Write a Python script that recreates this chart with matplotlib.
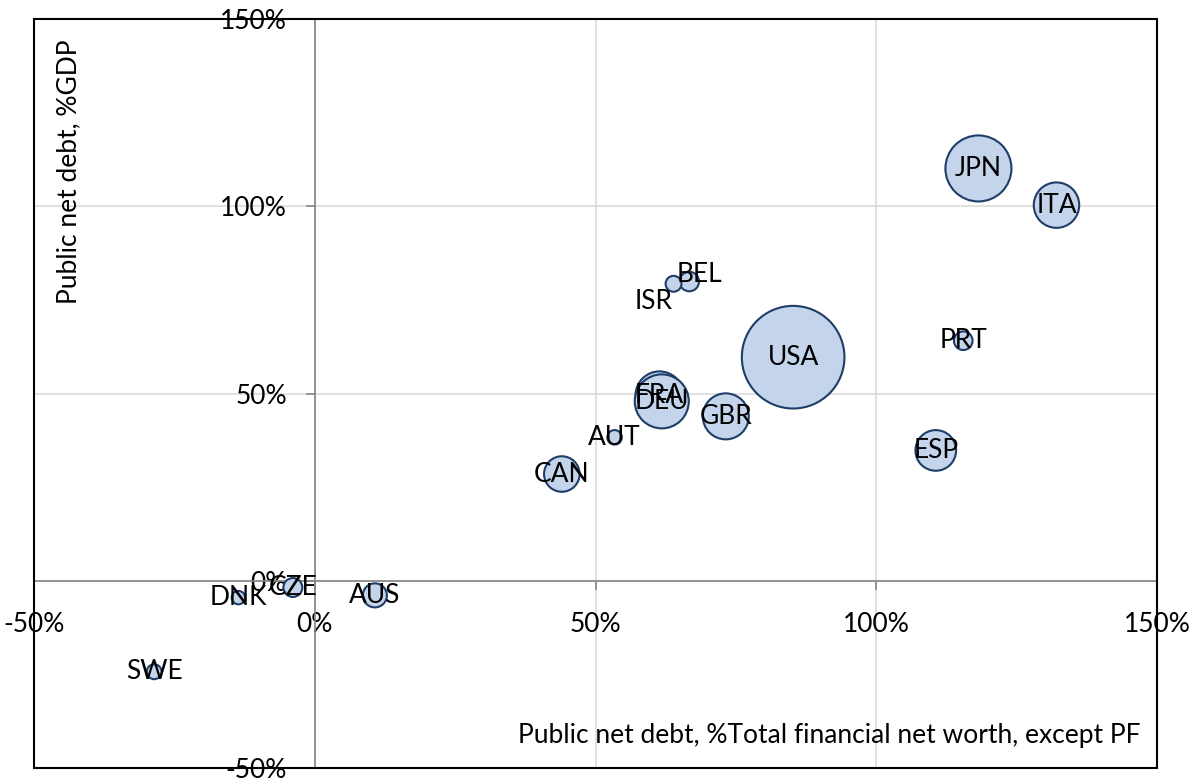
import matplotlib

matplotlib.use("Agg")
import matplotlib.pyplot as plt
from matplotlib.patches import Rectangle

# Dados (em %)
paises = ["JPN", "ITA", "BEL", "ISR", "PRT", "USA", "FRA", "DEU",
          "GBR", "AUT", "ESP", "CAN", "CZE", "DNK", "AUS", "SWE"]
divida_pl = [118.2, 132.1, 66.7, 63.9, 115.5, 85.2, 61.4, 61.8,
             73.2, 53.4, 110.6, 44.0, -3.9, -13.6, 10.7, -28.6]
divida_pib = [110.1, 100.3, 79.9, 79.3, 64.1, 59.7, 49.5, 47.9,
              43.9, 38.3, 34.8, 28.5, -1.8, -4.5, -3.9, -24.3]
tamanho = [41.4, 19.6, 3.6, 2.4, 3.3, 100.0, 21.9, 27.7,
           20.1, 2.0, 15.7, 12.0, 3.4, 1.7, 5.5, 2.1]

ticks = [-50, 0, 50, 100, 150]
tick_labels = ["-50%", "0%", "50%", "100%", "150%"]

# deslocamento (pt) dos rótulos que não ficam centrados na bolha
desloc = {"ISR": (-14.2, -12.5), "BEL": (7.4, 4.8)}

plt.rcParams["font.family"] = ["Lato", "DejaVu Sans"]
FONTE = 19

fig = plt.figure(figsize=(11.94, 7.78), dpi=100)
ax = fig.add_axes([0.0285, 0.01285, 0.9405, 0.9627])
ax.set_xlim(-50, 150)
ax.set_ylim(-50, 150)
ax.set_axisbelow(True)

ax.grid(True, color="#d9d9d9", linewidth=1.1)
ax.set_xticks(ticks)
ax.set_yticks(ticks)
ax.set_xticklabels(tick_labels)
ax.set_yticklabels(tick_labels)

for lado in ("top", "right"):
    ax.spines[lado].set_visible(False)
for lado in ("left", "bottom"):
    ax.spines[lado].set_position(("data", 0))
    ax.spines[lado].set_color("#868686")
    ax.spines[lado].set_linewidth(1.2)

ax.tick_params(axis="both", direction="out", length=6.5, width=1.2,
               color="#868686", labelsize=FONTE, labelcolor="black")
ax.tick_params(axis="y", pad=13.5)
ax.tick_params(axis="x", pad=16)

# bolhas: área proporcional ao tamanho
escala = 54.6
ax.scatter(divida_pl, divida_pib, s=[v * escala for v in tamanho],
           facecolor="#c3d4eb", edgecolor="#1f3d69", linewidth=1.5, zorder=3)

for nome, xv, yv in zip(paises, divida_pl, divida_pib):
    dx, dy = desloc.get(nome, (0, 0))
    ax.annotate(nome, (xv, yv), xytext=(dx, dy), textcoords="offset points",
                ha="center", va="center", fontsize=FONTE, color="black", zorder=4)

ax.text(0.031, 0.973, "Public net debt, %GDP", transform=ax.transAxes,
        rotation=90, ha="center", va="top", fontsize=FONTE)
ax.text(0.985, 0.043, "Public net debt, %Total financial net worth, except PF",
        transform=ax.transAxes, ha="right", va="center", fontsize=FONTE)

# moldura preta da área de plotagem
ax.add_patch(Rectangle((0, 0), 1, 1, transform=ax.transAxes, fill=False,
                       edgecolor="black", linewidth=1.5, clip_on=False, zorder=5))

fig.savefig("out.png", dpi=100, facecolor="white")
